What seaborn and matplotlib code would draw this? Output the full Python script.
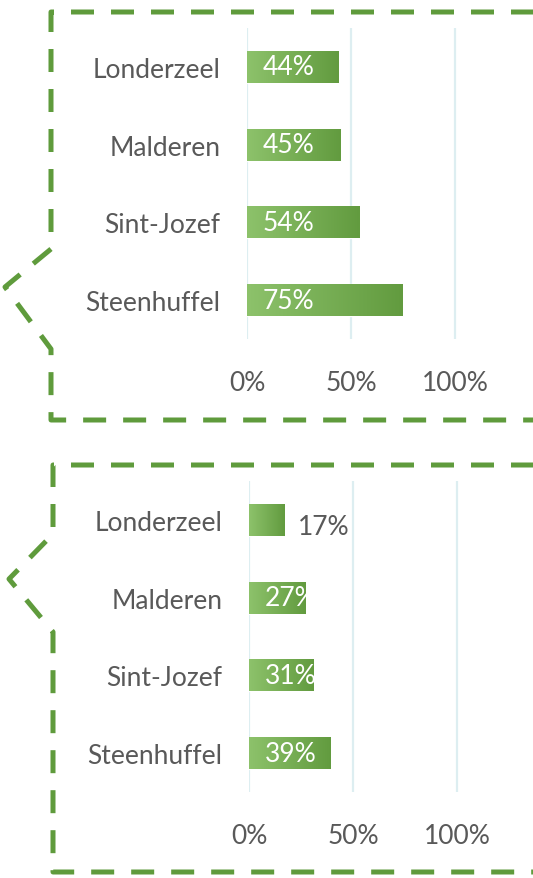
import numpy as np
import matplotlib
matplotlib.use("Agg")
import matplotlib.pyplot as plt
import seaborn as sns
from matplotlib.colors import LinearSegmentedColormap
from matplotlib.ticker import PercentFormatter

sns.set_theme(style="white")
plt.rcParams['font.family'] = ['Lato', 'DejaVu Sans']

# data
sites = ["Londerzeel", "Malderen", "Sint-Jozef", "Steenhuffel"]
pct_top = [0.44, 0.45, 0.54, 0.75]
pct_bottom = [0.17, 0.27, 0.31, 0.39]
x_ticks = [0, 0.5, 1.0]

TEXT = '#595959'
GREEN = '#5F9B3C'
GRID = '#DDEEF1'
grad = LinearSegmentedColormap.from_list("bar", ['#8DC26B', '#629B3F'])

W, H = 533, 879
fig = plt.figure(figsize=(W / 100, H / 100), dpi=100)

# dashed callout frames, drawn in pixel coords on a background axes
bg = fig.add_axes([0, 0, 1, 1], zorder=-1)
bg.set_xlim(0, W)
bg.set_ylim(H, 0)
bg.axis('off')
frames = [
    [(560, 13), (51, 13), (51, 250), (5, 288), (51, 350), (51, 421), (560, 421)],
    [(560, 466), (53, 466), (53, 535), (9, 580), (53, 633), (53, 873), (560, 873)],
]
for fr in frames:
    xs, ys = zip(*fr)
    bg.plot(xs, ys, color=GREEN, lw=3.6, dashes=(4.6, 3.4), solid_joinstyle='miter')


def panel(rect, values, xmax):
    ax = fig.add_axes(rect)
    sns.barplot(x=values, y=sites, orient='h', width=0.41, ax=ax,
                color=GREEN, saturation=1, zorder=3)
    ax.set_xlim(0, xmax)
    ax.set_ylim(3.5, -0.5)
    ax.set_xticks(x_ticks)
    ax.xaxis.set_major_formatter(PercentFormatter(1.0, decimals=0))
    ax.grid(axis='x', color=GRID, lw=1.6, zorder=0)
    ax.grid(axis='y', visible=False)
    sns.despine(ax=ax, left=True, bottom=True)
    ax.tick_params(axis='x', length=0, pad=22, labelsize=19, labelcolor=TEXT)
    ax.tick_params(axis='y', length=0, pad=19, labelsize=19, labelcolor=TEXT)
    ax.set_xlabel("")
    ax.set_ylabel("")

    g = np.linspace(0, 1, 256).reshape(1, -1)
    for bar, v in zip(ax.patches, values):
        x0, y0 = bar.get_x(), bar.get_y()
        w, h = bar.get_width(), bar.get_height()
        im = ax.imshow(g, cmap=grad, aspect='auto', zorder=4,
                       extent=(x0, x0 + w, y0 + h, y0), interpolation='bilinear')
        im.set_clip_path(bar)
        yc = y0 + h / 2
        if v < 0.2:
            ax.text(v + 0.066, yc + 0.09, f"{v:.0%}", color=TEXT, fontsize=19,
                    ha='left', va='center', zorder=5)
        else:
            t = ax.text(0.075, yc, f"{v:.0%}", color='white', fontsize=19,
                        ha='left', va='center', zorder=5)
            t.set_clip_path(bar)
    return ax


panel([247 / W, 1 - 340 / H, (W - 247) / W, 311 / H], pct_top, (W - 247) / 208)
panel([249 / W, 1 - 793 / H, (W - 249) / W, 311 / H], pct_bottom, (W - 249) / 208)

fig.savefig("out.png", dpi=100)
